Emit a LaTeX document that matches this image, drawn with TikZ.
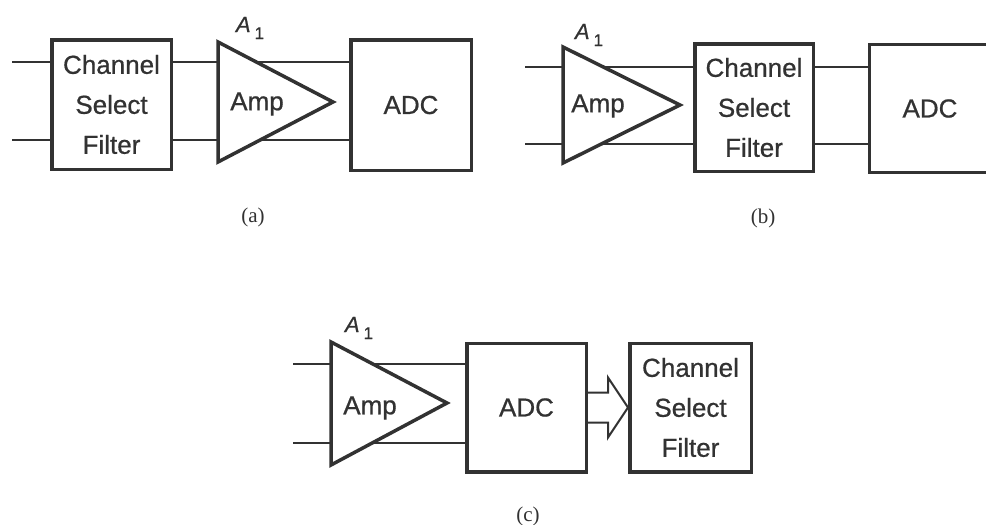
\documentclass[tikz,border=0pt]{standalone}
\usepackage{fontspec}
\setmainfont{Liberation Sans}[FakeBold=0.7]
\newfontfamily\capfont{Liberation Serif}
\usetikzlibrary{calc}
\definecolor{ink}{RGB}{50,50,50}
\begin{document}
\begin{tikzpicture}[x=1pt,y=-1pt,
 box/.style={draw=ink, line width=3.5pt, inner sep=0pt, text=ink, align=center, font=\fontsize{26}{40}\selectfont},
 openbox/.style={inner sep=0pt, text=ink, align=center, font=\fontsize{26}{40}\selectfont},
 wire/.style={draw=ink, line width=2pt},
 amp/.style={draw=ink, line width=3.5pt, line join=miter},
 lbl/.style={text=ink, font=\fontsize{26}{30}\selectfont},
 gain/.style={text=ink, font=\fontsize{22}{22}\selectfont\itshape},
 sublbl/.style={text=ink, font=\capfont\fontsize{21}{21}\selectfont}]
\useasboundingbox[fill=white] (0,0) rectangle (986,525);
\newcommand{\gainlabel}{A\kern4pt\raisebox{-7pt}{\upshape\fontsize{17}{17}\selectfont 1}}

% ---------------- (a) ----------------
\node[box, minimum width=119.5, minimum height=129.5] (csfa) at (111.5,104.5) {Channel\\Select\\Filter};
\node[box, minimum width=120.5, minimum height=130.5] (adca) at (411,105) {ADC};
\coordinate (ia1) at (12,62);
\coordinate (ia2) at (12,140);
\coordinate (ta1) at (218,42);
\coordinate (ta2) at (218,162);
\coordinate (ta3) at (333,102);
\draw[amp] (ta1) -- (ta3) -- (ta2) -- cycle;
\coordinate (ea1) at ($(ta1)!0.333!(ta3)$);
\coordinate (ea2) at ($(ta2)!0.367!(ta3)$);
\draw[wire] (ia1) -- (csfa.west |- ia1);
\draw[wire] (ia2) -- (csfa.west |- ia2);
\draw[wire] (csfa.east |- ia1) -- (ta1 |- ia1);
\draw[wire] (csfa.east |- ia2) -- (ta1 |- ia2);
\draw[wire] (ea1) -- (adca.west |- ea1);
\draw[wire] (ea2) -- (adca.west |- ea2);
\node[lbl] (ampa) at (257,104) {Amp};
\node[gain] (ga) at (250,28) {\gainlabel};
\node[sublbl] (capa) at (253,217) {(a)};

% ---------------- (b) ----------------
\node[box, minimum width=118.5, minimum height=127.5] (csfb) at (754,107.5) {Channel\\Select\\Filter};
\node[openbox, minimum width=124, minimum height=131] (adcb) at (930,108.5) {ADC};
\draw[amp] ($(adcb.north east)+(0,1.75)$) -- ($(adcb.north west)+(1.75,1.75)$) -- ($(adcb.south west)+(1.75,-1.75)$) -- ($(adcb.south east)+(0,-1.75)$);
\coordinate (ib1) at (525,67);
\coordinate (ib2) at (525,144);
\coordinate (tb1) at (563,47);
\coordinate (tb2) at (563,163);
\coordinate (tb3) at (680,105);
\draw[amp] (tb1) -- (tb3) -- (tb2) -- cycle;
\coordinate (eb1) at ($(tb1)!0.345!(tb3)$);
\coordinate (eb2) at ($(tb2)!0.328!(tb3)$);
\draw[wire] (ib1) -- (tb1 |- ib1);
\draw[wire] (ib2) -- (tb1 |- ib2);
\draw[wire] (eb1) -- (csfb.west |- eb1);
\draw[wire] (eb2) -- (csfb.west |- eb2);
\draw[wire] (csfb.east |- eb1) -- ($(adcb.west |- eb1)+(1.75,0)$);
\draw[wire] (csfb.east |- eb2) -- ($(adcb.west |- eb2)+(1.75,0)$);
\node[lbl] (ampb) at (598,106) {Amp};
\node[gain] (gb) at (589,35) {\gainlabel};
\node[sublbl] (capb) at (763,218) {(b)};

% ---------------- (c) ----------------
\node[box, minimum width=119.5, minimum height=128.5] (adcc) at (526.5,407.5) {ADC};
\node[box, minimum width=121.5, minimum height=128.5] (csfc) at (690.5,407.5) {Channel\\Select\\Filter};
\coordinate (ic1) at (293,364);
\coordinate (ic2) at (293,443);
\coordinate (tc1) at (331,342);
\coordinate (tc2) at (331,465);
\coordinate (tc3) at (447,403);
\draw[amp] (tc1) -- (tc3) -- (tc2) -- cycle;
\coordinate (ec1) at ($(tc1)!0.361!(tc3)$);
\coordinate (ec2) at ($(tc2)!0.355!(tc3)$);
\draw[wire] (ic1) -- (tc1 |- ic1);
\draw[wire] (ic2) -- (tc1 |- ic2);
\draw[wire] (ec1) -- (adcc.west |- ec1);
\draw[wire] (ec2) -- (adcc.west |- ec2);
\draw[wire, line join=miter] ($(adcc.east)+(0,-15)$) -- ++(20,0) -- ++(0,-15) -- (csfc.west) -- ++(-20,30) -- ++(0,-15) -- ($(adcc.east)+(0,15)$);
\node[lbl] (ampc) at (370,408) {Amp};
\node[gain] (gc) at (359,328) {\gainlabel};
\node[sublbl] (capc) at (528,516) {(c)};
\end{tikzpicture}
\end{document}
